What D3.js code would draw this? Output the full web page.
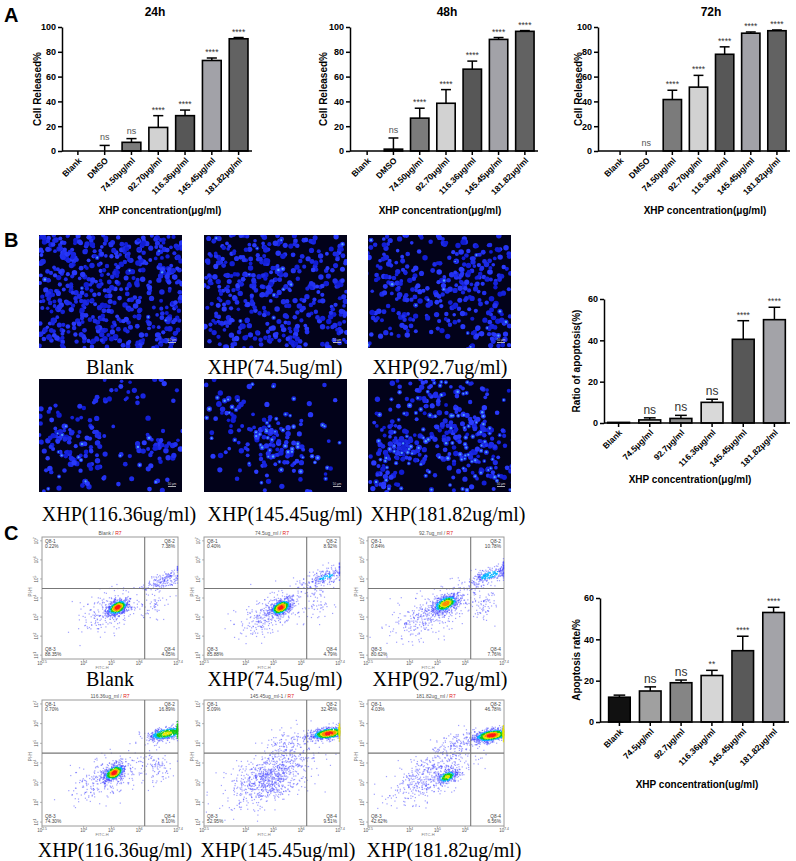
<!DOCTYPE html>
<html>
<head>
<meta charset="utf-8">
<script src="https://cdn.jsdelivr.net/npm/d3@7"></script>
<style>
  body { margin: 0; background: #fff; }
  svg { display: block; font-family: "Liberation Sans", Arial, sans-serif; }
  .serif { font-family: "Liberation Serif", "Times New Roman", serif; }
</style>
</head>
<body>
<div id="fig"></div>
<script>
// ---------- data ----------
var dosesA = ["Blank", "DMSO", "74.50μg/ml", "92.70μg/ml", "116.36μg/ml", "145.45μg/ml", "181.82μg/ml"];
var mean24 = [0, 0, 7, 19, 28.5, 73, 90.5];
var sd24 = [0, 4.5, 3, 9.5, 4.5, 2, 1];
var sig24 = ["", "ns", "ns", "****", "****", "****", "****"];
var mean48 = [0, 1.5, 26.5, 38.5, 66, 90, 96.5];
var sd48 = [0, 9, 8, 11, 6.5, 1.5, 0.6];
var sig48 = ["", "ns", "****", "****", "****", "****", "****"];
var mean72 = [0, 0, 41.5, 51.5, 78, 95, 97];
var sd72 = [0, 0, 7.5, 9.5, 6, 1, 0.6];
var sig72 = ["", "ns", "****", "****", "****", "****", "****"];
var fillA = ["#fff", "#222", "#7b7b7b", "#d2d2d2", "#575757", "#a2a2a8", "#626262"];

var dosesB = ["Blank", "74.5μg/ml", "92.7μg/ml", "116.36μg/ml", "145.45μg/ml", "181.82μg/ml"];
var meanB = [0.3, 1.5, 2.2, 10, 40.5, 50];
var sdB = [0, 1, 1.5, 1.5, 9, 6];
var sigB = ["", "ns", "ns", "ns", "****", "****"];
var fillB = ["#fff", "#cfcfcf", "#8c8c8c", "#d9d9d9", "#575757", "#a3a3a8"];

var meanC = [12, 15, 19, 22.5, 34.5, 53];
var sdC = [1, 2, 1.3, 2.5, 7, 2.5];
var sigC = ["", "ns", "ns", "**", "****", "****"];
var fillC = ["#111", "#a0a0a0", "#858585", "#d6d6d6", "#595959", "#a3a3a8"];

var microLabels = ["Blank", "XHP(74.5ug/ml)", "XHP(92.7ug/ml)", "XHP(116.36ug/ml)", "XHP(145.45ug/ml)", "XHP(181.82ug/ml)"];
// cell groups per micrograph: [cx, cy, spread (-1 = whole field), count]
var microGroups = [
  [[0.5, 0.5, -1, 540]],
  [[0.5, 0.5, -1, 380], [0.3, 0.4, 0.2, 50]],
  [[0.5, 0.5, -1, 90], [0.75, 0.35, 0.18, 120], [0.35, 0.55, 0.15, 80], [0.15, 0.2, 0.1, 30], [0.85, 0.85, 0.1, 40]],
  [[0.5, 0.5, -1, 50], [0.15, 0.5, 0.12, 60], [0.35, 0.7, 0.12, 40], [0.85, 0.6, 0.1, 35], [0.5, 0.1, 0.15, 15]],
  [[0.5, 0.5, -1, 45], [0.5, 0.58, 0.16, 110], [0.15, 0.3, 0.08, 20]],
  [[0.5, 0.5, -1, 70], [0.25, 0.6, 0.12, 90], [0.7, 0.5, 0.14, 130], [0.45, 0.12, 0.1, 50], [0.85, 0.85, 0.08, 40], [0.1, 0.85, 0.08, 25]]
];
var microBright = [0.02, 0.03, 0.05, 0.08, 0.3, 0.3];

var flowHeads = ["Blank", "74.5ug_ml", "92.7ug_ml", "116.36ug_ml", "145.45ug_ml-1", "181.82ug_ml"];
var flowQ1 = ["0.22%", "0.40%", "0.84%", "0.70%", "5.09%", "4.03%"];
var flowQ2 = ["7.38%", "8.92%", "10.78%", "16.89%", "32.45%", "46.78%"];
var flowQ3 = ["88.35%", "85.88%", "80.62%", "74.30%", "52.95%", "42.62%"];
var flowQ4 = ["4.05%", "4.79%", "7.76%", "8.10%", "9.51%", "6.56%"];
// populations in log10 units: [cx, cy, sx, sy, rho, n, heat]
var flowPops = [
  [[5.22, 3.5, 0.2, 0.22, 0.45, 600, 1], [5.0, 3.3, 0.55, 0.55, 0.5, 260, 0], [6.95, 5.0, 0.4, 0.3, 0.7, 180, 0.35], [6.5, 3.6, 0.3, 0.5, 0, 50, 0]],
  [[5.27, 3.5, 0.2, 0.22, 0.45, 600, 1], [4.9, 3.2, 0.6, 0.6, 0.5, 300, 0], [6.9, 5.1, 0.45, 0.3, 0.7, 230, 0.4], [6.6, 3.7, 0.3, 0.5, 0, 60, 0]],
  [[5.3, 3.7, 0.25, 0.25, 0.5, 550, 0.9], [4.8, 3.2, 0.7, 0.7, 0.6, 400, 0], [6.9, 5.2, 0.45, 0.3, 0.7, 280, 0.45], [6.6, 3.7, 0.3, 0.5, 0, 80, 0]],
  [[5.1, 3.5, 0.2, 0.22, 0.45, 500, 1], [4.8, 3.2, 0.6, 0.6, 0.5, 300, 0], [7.0, 5.5, 0.4, 0.2, 0.5, 480, 0.75], [6.6, 3.8, 0.3, 0.5, 0, 90, 0]],
  [[4.9, 3.3, 0.75, 0.75, 0.55, 900, 0.25], [7.0, 5.5, 0.35, 0.17, 0.4, 700, 1], [5.6, 5.1, 0.5, 0.4, 0.4, 100, 0]],
  [[5.35, 3.3, 0.2, 0.18, 0.4, 280, 0.75], [4.8, 3.4, 0.7, 0.7, 0.6, 500, 0], [6.95, 5.4, 0.35, 0.18, 0.4, 800, 1], [5.7, 5.0, 0.45, 0.35, 0.5, 120, 0]]
];

// ---------- svg ----------
var svg = d3.select("#fig").append("svg").attr("width", 796).attr("height", 861);

function barChart(s) {
  var g = svg.append("g");
  var x = d3.scaleBand().domain(s.cats).range([s.x0, s.x1]).paddingInner(s.pad).paddingOuter(s.pad / 2);
  var y = d3.scaleLinear().domain([0, s.ymax]).range([s.yb, s.yt]);
  var rows = s.cats.map(function (c, i) {
    return { c: c, m: s.mean[i], e: s.sd[i], sig: s.sig[i], f: s.fill[i] };
  });
  var cx = function (d) { return x(d.c) + x.bandwidth() / 2; };

  // error bars (upper only)
  var eb = g.append("g").selectAll("g").data(rows.filter(function (d) { return d.e > 0; })).join("g");
  eb.append("line").attr("x1", cx).attr("x2", cx)
    .attr("y1", function (d) { return y(d.m); }).attr("y2", function (d) { return y(d.m + d.e); })
    .attr("stroke", "#000").attr("stroke-width", 1.5);
  eb.append("line")
    .attr("x1", function (d) { return cx(d) - x.bandwidth() * 0.27; })
    .attr("x2", function (d) { return cx(d) + x.bandwidth() * 0.27; })
    .attr("y1", function (d) { return y(d.m + d.e); }).attr("y2", function (d) { return y(d.m + d.e); })
    .attr("stroke", "#000").attr("stroke-width", 1.5);

  // bars
  g.append("g").selectAll("rect").data(rows.filter(function (d) { return d.m > 0; })).join("rect")
    .attr("x", function (d) { return x(d.c); })
    .attr("width", x.bandwidth())
    .attr("y", function (d) { return y(d.m); })
    .attr("height", function (d) { return y(0) - y(d.m); })
    .attr("fill", function (d) { return d.f; })
    .attr("stroke", "#000").attr("stroke-width", 1.6);

  // significance marks
  g.append("g").selectAll("text").data(rows.filter(function (d) { return d.sig; })).join("text")
    .attr("x", cx)
    .attr("y", function (d) { return y(d.m + d.e) - (d.sig == "ns" ? s.nsGap : 3); })
    .attr("text-anchor", "middle")
    .attr("fill", function (d) { return d.sig == "ns" ? s.nsColor : "#333"; })
    .style("font-size", function (d) { return (d.sig == "ns" ? s.nsSize : 8.5) + "px"; })
    .text(function (d) { return d.sig; });

  // y axis
  var ya = g.append("g").attr("transform", "translate(" + s.ax + ",0)")
    .call(d3.axisLeft(y).tickValues(s.ticks).tickSize(4).tickSizeOuter(0).tickPadding(2));
  ya.select(".domain").attr("stroke-width", 1.5);
  ya.selectAll(".tick line").attr("stroke-width", 1.5);
  ya.selectAll("text").style("font-size", "9px").style("font-weight", "bold").attr("fill", "#000");

  // x axis
  var xa = g.append("g").attr("transform", "translate(0," + y(0) + ")")
    .call(d3.axisBottom(x).tickSize(4).tickSizeOuter(0));
  xa.select(".domain").remove();
  xa.append("line").attr("x1", s.ax).attr("x2", s.x1).attr("stroke", "#000").attr("stroke-width", 1.5);
  xa.selectAll(".tick line").attr("stroke-width", 1.5);
  xa.selectAll("text")
    .attr("x", 0).attr("y", 0).attr("dy", "0.35em")
    .attr("transform", "translate(2,8) rotate(-45)")
    .style("text-anchor", "end").style("font-size", "8.5px").style("font-weight", "bold").attr("fill", "#000");

  // titles
  if (s.title) {
    g.append("text").attr("x", s.titleX).attr("y", 16).attr("text-anchor", "middle")
      .style("font-size", "12px").style("font-weight", "bold").text(s.title);
  }
  g.append("text").attr("transform", "translate(" + s.ylabX + "," + (s.ylabY || (s.yb + s.yt) / 2) + ") rotate(-90)")
    .attr("text-anchor", "middle").style("font-size", "10px").style("font-weight", "bold").text(s.ylab);
  g.append("text").attr("x", s.xlabX).attr("y", s.xlabY).attr("text-anchor", "middle")
    .style("font-size", "10px").style("font-weight", "bold").text(s.xlab);
}

// ---------- panel A ----------
var baseA = { cats: dosesA, fill: fillA, pad: 0.3, ymax: 100, ticks: [0, 20, 40, 60, 80, 100], yb: 151, yt: 27,
  nsGap: 5, nsSize: 9, nsColor: "#555", ylab: "Cell Released%", xlab: "XHP concentration(μg/ml)", xlabY: 214 };
barChart(Object.assign({}, baseA, { mean: mean24, sd: sd24, sig: sig24, ax: 62, x0: 64.5, x1: 252, title: "24h", titleX: 155, ylabX: 41, xlabX: 160 }));
barChart(Object.assign({}, baseA, { mean: mean48, sd: sd48, sig: sig48, ax: 350, x0: 354, x1: 538, title: "48h", titleX: 447, ylabX: 327, xlabX: 440 }));
barChart(Object.assign({}, baseA, { mean: mean72, sd: sd72, sig: sig72, ax: 598, x0: 607, x1: 790, title: "72h", titleX: 711, ylabX: 582, xlabX: 705 }));

// ---------- panel B / C bar charts ----------
barChart({ cats: dosesB, mean: meanB, sd: sdB, sig: sigB, fill: fillB, pad: 0.3, ymax: 60, ticks: [0, 20, 40, 60],
  yb: 423, yt: 299, ax: 604, x0: 603, x1: 790, nsGap: 4, nsSize: 12, nsColor: "#333",
  ylab: "Ratio of apoptosis(%)", ylabX: 580, xlab: "XHP concentration(μg/ml)", xlabX: 690, xlabY: 483 });
barChart({ cats: dosesB, mean: meanC, sd: sdC, sig: sigC, fill: fillC, pad: 0.3, ymax: 60, ticks: [0, 20, 40, 60],
  yb: 722, yt: 598, ax: 600, x0: 604, x1: 789, nsGap: 4, nsSize: 12, nsColor: "#333",
  ylab: "Apoptosis rate/%", ylabX: 580, xlab: "XHP concentration(ug/ml)", xlabX: 697, xlabY: 788 });

// panel letters
[["A", 22], ["B", 247], ["C", 540]].forEach(function (p) {
  svg.append("text").attr("x", 4).attr("y", p[1]).style("font-size", "20px").style("font-weight", "bold").text(p[0]);
});

// ---------- micrographs (fluorescence texture) ----------
var microX = [39, 204, 368], microY = [235, 379], microW = 143, microH = 113;
var defs = svg.append("defs");
microLabels.forEach(function (lab, i) {
  var x0 = microX[i % 3], y0 = microY[Math.floor(i / 3)];
  var id = "mclip" + i;
  defs.append("clipPath").attr("id", id).append("rect").attr("x", x0).attr("y", y0).attr("width", microW).attr("height", microH);
  var g = svg.append("g").attr("clip-path", "url(#" + id + ")");
  g.append("rect").attr("x", x0).attr("y", y0).attr("width", microW).attr("height", microH).attr("fill", "#02021a");
  var rnd = d3.randomLcg(0.13 + i * 0.11);
  var nrm = d3.randomNormal.source(rnd)(0, 1);
  var px = d3.scaleLinear().range([x0, x0 + microW]);
  var py = d3.scaleLinear().range([y0, y0 + microH]);
  var cells = [];
  microGroups[i].forEach(function (gp) {
    for (var k = 0; k < gp[3]; k++) {
      var u, v;
      if (gp[2] < 0) { u = rnd(); v = rnd(); }
      else { u = gp[0] + gp[2] * nrm(); v = gp[1] + gp[2] * 1.1 * nrm(); }
      cells.push({ u: u, v: v, r: 1.8 + rnd() * 1.0, t: rnd(), b: rnd() < microBright[i] });
    }
  });
  var col = d3.interpolateRgb("#0f1ad0", "#2b3cff");
  g.selectAll("circle.cell").data(cells).join("circle")
    .attr("cx", function (d) { return px(d.u); }).attr("cy", function (d) { return py(d.v); })
    .attr("r", function (d) { return d.r; }).attr("fill", function (d) { return col(d.t); });
  g.selectAll("circle.hi").data(cells.filter(function (d) { return d.b; })).join("circle")
    .attr("cx", function (d) { return px(d.u); }).attr("cy", function (d) { return py(d.v); })
    .attr("r", function (d) { return d.r * 0.45; }).attr("fill", "#5cc4ff").attr("opacity", 0.8);
  // scale bar
  g.append("rect").attr("x", x0 + microW - 14).attr("y", y0 + microH - 6).attr("width", 8).attr("height", 0.8).attr("fill", "#ddd");
  g.append("text").attr("x", x0 + microW - 10).attr("y", y0 + microH - 7).attr("text-anchor", "middle")
    .style("font-size", "3px").attr("fill", "#ddd").text("50 μm");
});
var microLabX = [110, 275, 440, 119, 285, 448], microLabY = [374, 374, 374, 521, 521, 521];
microLabels.forEach(function (lab, i) {
  svg.append("text").attr("class", "serif").attr("x", microLabX[i]).attr("y", microLabY[i])
    .attr("text-anchor", "middle").style("font-size", "20px").text(lab);
});

// ---------- flow cytometry plots ----------
var flowX = [42, 204, 368], flowY = [537, 700], flowW = 136, flowH = [122, 126];
var level = d3.scaleThreshold().domain([0.35, 0.5, 0.68, 0.8, 0.92])
  .range(["#4444ff", "#00b4ff", "#16c816", "#e6e600", "#ff8c00", "#ff1a1a"]);
flowHeads.forEach(function (head, i) {
  var x0 = flowX[i % 3], y0 = flowY[Math.floor(i / 3)], h = flowH[Math.floor(i / 3)];
  var xs = d3.scaleLog().domain([Math.pow(10, 2.5), Math.pow(10, 7.4)]).range([x0, x0 + flowW]);
  var ys = d3.scaleLog().domain([Math.pow(10, 0.8), Math.pow(10, 7.2)]).range([y0 + h, y0]);
  var g = svg.append("g");
  g.append("rect").attr("x", x0).attr("y", y0).attr("width", flowW).attr("height", h)
    .attr("fill", "#fff").attr("stroke", "#9a9a9a").attr("stroke-width", 1);

  var rnd = d3.randomLcg(0.37 + i * 0.07);
  var nrm = d3.randomNormal.source(rnd)(0, 1);
  var pts = [];
  flowPops[i].forEach(function (p) {
    for (var k = 0; k < p[5]; k++) {
      var z1 = nrm(), z2 = nrm();
      var lx = p[0] + p[2] * z1;
      var ly = p[1] + p[3] * (p[4] * z1 + Math.sqrt(1 - p[4] * p[4]) * z2);
      if (lx < 2.55 || ly < 0.85 || ly > 7.15) continue;
      var clamped = false;
      if (lx > 7.38) { lx = 7.38; clamped = true; }
      var lev = p[6] * Math.exp(-0.5 * (z1 * z1 + z2 * z2));
      if (clamped) lev = Math.max(lev, p[6] * 0.75);
      pts.push({ lx: lx, ly: ly, lev: lev });
    }
  });
  pts.sort(function (a, b) { return a.lev - b.lev; });
  g.append("g").selectAll("rect").data(pts).join("rect")
    .attr("x", function (d) { return xs(Math.pow(10, d.lx)) - 0.6; })
    .attr("y", function (d) { return ys(Math.pow(10, d.ly)) - 0.6; })
    .attr("width", 1.2).attr("height", 1.2)
    .attr("fill", function (d) { return level(d.lev); })
    .attr("opacity", function (d) { return d.lev < 0.35 ? 0.5 : 0.95; });

  // quadrant gates
  g.append("line").attr("x1", xs(Math.pow(10, 6.2))).attr("x2", xs(Math.pow(10, 6.2))).attr("y1", y0).attr("y2", y0 + h)
    .attr("stroke", "#777").attr("stroke-width", 1.1);
  g.append("line").attr("x1", x0).attr("x2", x0 + flowW).attr("y1", ys(Math.pow(10, 4.5))).attr("y2", ys(Math.pow(10, 4.5)))
    .attr("stroke", "#777").attr("stroke-width", 1.1);

  // quadrant labels
  var q = [["Q8-1", flowQ1[i], x0 + 3, y0 + 6, "start"], ["Q8-2", flowQ2[i], x0 + flowW - 3, y0 + 6, "end"],
           ["Q8-3", flowQ3[i], x0 + 3, y0 + h - 8, "start"], ["Q8-4", flowQ4[i], x0 + flowW - 3, y0 + h - 8, "end"]];
  q.forEach(function (d) {
    var t = g.append("text").attr("x", d[2]).attr("y", d[3]).attr("text-anchor", d[4])
      .style("font-size", "4.8px").attr("fill", "#444");
    t.append("tspan").attr("x", d[2]).text(d[0]);
    t.append("tspan").attr("x", d[2]).attr("dy", 5).text(d[1]);
  });

  // header
  var ht = g.append("text").attr("x", x0 + flowW / 2).attr("y", y0 - 2).attr("text-anchor", "middle")
    .style("font-size", "5px").attr("fill", "#555");
  ht.append("tspan").text(head + " / ");
  ht.append("tspan").attr("fill", "#e02020").text("R7");

  // x ticks
  [2.5, 4, 5, 6, 7.4].forEach(function (e) {
    var xx = xs(Math.pow(10, e));
    g.append("line").attr("x1", xx).attr("x2", xx).attr("y1", y0 + h).attr("y2", y0 + h + 2).attr("stroke", "#888").attr("stroke-width", 0.6);
    var t = g.append("text").attr("x", xx).attr("y", y0 + h + 6).attr("text-anchor", "middle").style("font-size", "4.5px").attr("fill", "#555");
    t.append("tspan").text("10");
    t.append("tspan").attr("dy", -2).style("font-size", "3.4px").text(e);
  });
  g.append("text").attr("x", x0 + flowW / 2 - 8).attr("y", y0 + h + 9.5).attr("text-anchor", "middle")
    .style("font-size", "4px").attr("fill", "#777").text("FITC-H");
  // y ticks
  [1, 2, 3, 4, 5, 6, 7].forEach(function (e) {
    var yy = ys(Math.pow(10, e));
    g.append("line").attr("x1", x0 - 2).attr("x2", x0).attr("y1", yy).attr("y2", yy).attr("stroke", "#888").attr("stroke-width", 0.6);
    var t = g.append("text").attr("transform", "translate(" + (x0 - 4) + "," + yy + ") rotate(-90)")
      .attr("text-anchor", "middle").style("font-size", "4.5px").attr("fill", "#555");
    t.append("tspan").text("10");
    t.append("tspan").attr("dy", -2).style("font-size", "3.4px").text(e);
  });
  g.append("text").attr("transform", "translate(" + (x0 - 10) + "," + (y0 + h * 0.45) + ") rotate(-90)")
    .attr("text-anchor", "middle").style("font-size", "4.5px").attr("fill", "#777").text("PI-H");
});
var flowLabX = [110, 275, 440, 115, 278, 444], flowLabY = [686, 686, 686, 857, 857, 857];
microLabels.forEach(function (lab, i) {
  svg.append("text").attr("class", "serif").attr("x", flowLabX[i]).attr("y", flowLabY[i])
    .attr("text-anchor", "middle").style("font-size", "20px").text(lab);
});
</script>
</body>
</html>
